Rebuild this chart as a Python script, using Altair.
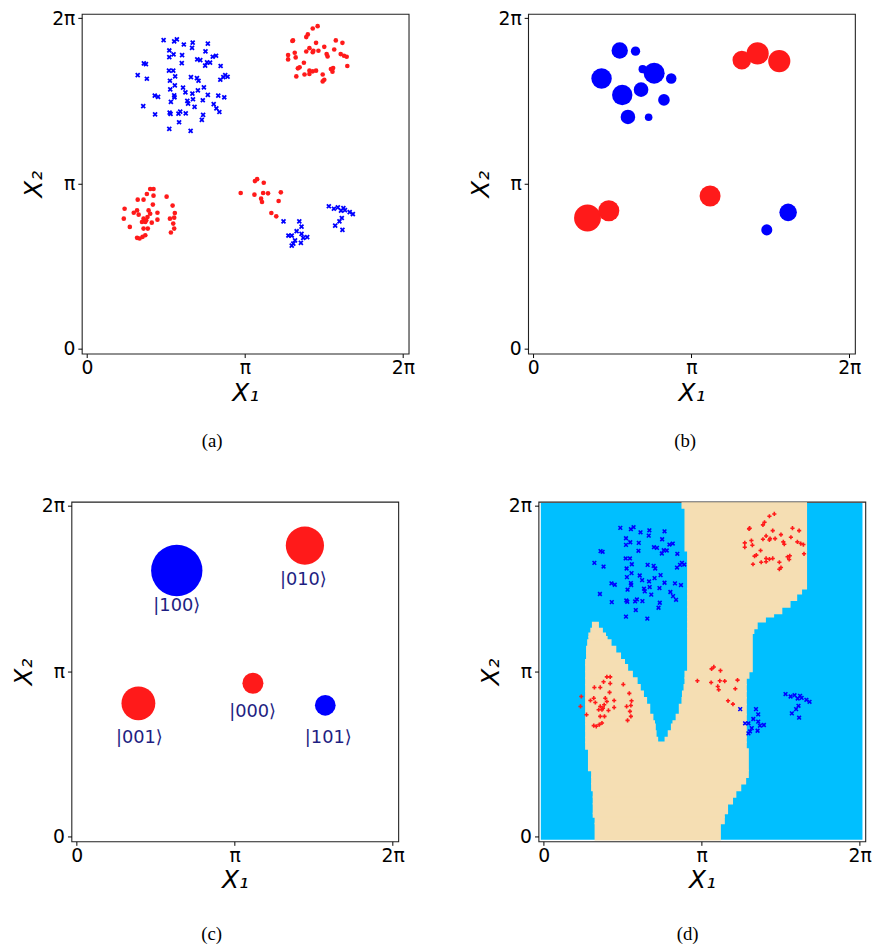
import altair as alt
import pandas as pd

# ---------------- data (coordinates in units of pi) ----------------
# training data used in panels (a) and (d)
blue_upper = [(0.485, 1.868), (0.552, 1.860), (0.569, 1.872), (0.613, 1.841), (0.669, 1.853),
              (0.665, 1.821), (0.765, 1.847), (0.521, 1.805), (0.548, 1.781), (0.521, 1.765),
              (0.602, 1.777), (0.750, 1.799), (0.698, 1.751), (0.717, 1.747), (0.796, 1.767),
              (0.817, 1.773), (0.600, 1.729), (0.360, 1.727), (0.373, 1.723), (0.760, 1.733),
              (0.779, 1.731), (0.748, 1.713), (0.846, 1.711), (0.321, 1.656), (0.379, 1.634),
              (0.519, 1.683), (0.546, 1.683), (0.558, 1.648), (0.525, 1.622), (0.658, 1.644),
              (0.696, 1.638), (0.706, 1.622), (0.875, 1.656), (0.890, 1.646), (0.863, 1.644),
              (0.844, 1.628), (0.556, 1.594), (0.608, 1.580), (0.527, 1.570), (0.623, 1.552),
              (0.667, 1.544), (0.702, 1.564), (0.740, 1.582), (0.429, 1.532), (0.450, 1.524),
              (0.552, 1.534), (0.554, 1.522), (0.765, 1.536), (0.831, 1.532), (0.869, 1.522),
              (0.531, 1.494), (0.635, 1.500), (0.671, 1.510), (0.733, 1.504), (0.640, 1.484),
              (0.802, 1.480), (0.356, 1.468), (0.681, 1.464), (0.819, 1.455), (0.838, 1.433),
              (0.431, 1.419), (0.523, 1.429), (0.529, 1.421), (0.579, 1.423), (0.590, 1.435),
              (0.625, 1.425), (0.735, 1.415), (0.727, 1.385), (0.583, 1.371), (0.521, 1.331),
              (0.656, 1.319)]
blue_lower = [(1.244, 0.772), (1.344, 0.772), (1.358, 0.740), (1.327, 0.712), (1.275, 0.686),
              (1.296, 0.686), (1.358, 0.696), (1.394, 0.676), (1.369, 0.672), (1.317, 0.657),
              (1.306, 0.637), (1.296, 0.625), (1.354, 0.641)]
blue_right = [(1.531, 0.863), (1.563, 0.848), (1.588, 0.856), (1.623, 0.852), (1.633, 0.840),
              (1.608, 0.836), (1.663, 0.828), (1.683, 0.816), (1.613, 0.792), (1.598, 0.772),
              (1.571, 0.746), (1.617, 0.720)]
red_upper = [(1.460, 1.952), (1.429, 1.938), (1.398, 1.902), (1.388, 1.886), (1.304, 1.866),
             (1.300, 1.862), (1.450, 1.851), (1.575, 1.866), (1.617, 1.851), (1.502, 1.827),
             (1.408, 1.819), (1.388, 1.799), (1.429, 1.795), (1.465, 1.803), (1.565, 1.811),
             (1.273, 1.777), (1.273, 1.751), (1.315, 1.791), (1.321, 1.763), (1.517, 1.783),
             (1.523, 1.769), (1.606, 1.783), (1.627, 1.773), (1.644, 1.767), (1.373, 1.731),
             (1.346, 1.703), (1.335, 1.697), (1.648, 1.711), (1.408, 1.683), (1.429, 1.679),
             (1.450, 1.683), (1.408, 1.663), (1.377, 1.660), (1.325, 1.648), (1.492, 1.660),
             (1.544, 1.693), (1.558, 1.699), (1.554, 1.677), (1.502, 1.628), (1.492, 1.618),
             (1.433, 1.803)]
red_left = [(0.400, 0.967), (0.421, 0.967), (0.379, 0.937), (0.321, 0.903), (0.358, 0.903),
            (0.417, 0.873), (0.504, 0.921), (0.542, 0.867), (0.238, 0.848), (0.233, 0.788),
            (0.296, 0.824), (0.317, 0.838), (0.327, 0.812), (0.390, 0.838), (0.400, 0.818),
            (0.383, 0.798), (0.358, 0.788), (0.348, 0.768), (0.369, 0.768), (0.375, 0.778),
            (0.410, 0.764), (0.446, 0.824), (0.446, 0.782), (0.556, 0.822), (0.552, 0.794),
            (0.525, 0.788), (0.546, 0.758), (0.552, 0.728), (0.271, 0.738), (0.358, 0.728),
            (0.385, 0.728), (0.369, 0.688), (0.352, 0.678), (0.317, 0.672), (0.333, 0.668),
            (0.531, 0.704), (0.421, 0.927)]
red_middle = [(1.063, 1.015), (1.077, 1.027), (1.119, 1.005), (0.973, 0.943), (1.060, 0.933),
              (1.115, 0.943), (1.146, 0.941), (1.227, 0.947), (1.102, 0.909), (1.108, 0.889),
              (1.213, 0.895), (1.167, 0.822), (1.198, 0.802)]

# panel (b): weighted points (x, y, weight)
b_blue = [(0.692, 1.692, 7.8), (0.547, 1.805, 31.4), (0.647, 1.801, 10.2), (0.432, 1.636, 49.0),
          (0.563, 1.536, 49.0), (0.682, 1.568, 25.0), (0.765, 1.668, 51.8), (0.873, 1.636, 13.0),
          (0.827, 1.506, 16.0), (0.599, 1.403, 25.0), (0.730, 1.401, 6.8), (1.478, 0.720, 14.4),
          (1.613, 0.826, 36.0)]
b_red = [(0.343, 0.792, 84.6), (0.478, 0.836, 51.8), (1.119, 0.925, 51.8),
         (1.320, 1.747, 41.0), (1.420, 1.787, 57.8), (1.557, 1.741, 57.8)]

# panel (c): basis states
c_state = ["|100⟩", "|010⟩", "|001⟩", "|000⟩", "|101⟩"]
c_x = [0.634, 1.445, 0.391, 1.116, 1.574]
c_y = [1.610, 1.761, 0.807, 0.928, 0.795]
c_weight = [309.8, 171.6, 134.6, 51.8, 50.4]
c_class = ["blue", "red", "red", "red", "blue"]
c_label_x = [0.634, 1.435, 0.397, 1.114, 1.593]
c_label_y = [1.394, 1.554, 0.598, 0.757, 0.598]

# panel (d): decision region; wheat bands (y0, y1, x0, x1), rest is sky blue
grid_extent = [-0.018, 2.018]
wheat_bands = [
    (1.988, 2.018, 0.877, 1.6625), (1.729, 1.988, 0.896, 1.6625), (1.50, 1.729, 0.9125, 1.6625),
    (1.47, 1.50, 0.9125, 1.631), (1.43, 1.47, 0.9125, 1.60), (1.39, 1.43, 0.9125, 1.558),
    (1.35, 1.39, 0.9125, 1.506), (1.33, 1.35, 0.9125, 1.454), (1.30, 1.33, 0.9125, 1.402),
    (1.26, 1.30, 0.9125, 1.35), (1.23, 1.26, 0.9125, 1.329), (1.00, 1.23, 0.9125, 1.319),
    (0.96, 1.00, 0.896, 1.298), (0.92, 0.96, 0.896, 1.281), (0.88, 0.92, 0.89, 1.281),
    (0.84, 0.88, 0.88, 1.281), (0.80, 0.84, 0.877, 1.281), (0.74, 0.80, 0.86, 1.281),
    (0.70, 0.74, 0.84, 1.281), (0.68, 0.70, 0.82, 1.281), (0.64, 0.68, 0.81, 1.281),
    (0.60, 0.64, 0.79, 1.281), (0.572, 0.60, 0.77, 1.281),
    (1.26, 1.295, 0.31, 0.345), (1.23, 1.26, 0.30, 0.37), (1.21, 1.23, 0.2875, 0.39),
    (1.19, 1.21, 0.2875, 0.40), (1.15, 1.19, 0.28, 0.425), (1.11, 1.15, 0.273, 0.455),
    (1.07, 1.11, 0.273, 0.485), (1.04, 1.07, 0.267, 0.51), (1.00, 1.04, 0.267, 0.53),
    (0.96, 1.00, 0.267, 0.56), (0.92, 0.96, 0.267, 0.59), (0.88, 0.92, 0.267, 0.61),
    (0.84, 0.88, 0.267, 0.63), (0.80, 0.84, 0.267, 0.65), (0.74, 0.80, 0.267, 0.67),
    (0.70, 0.74, 0.267, 0.69), (0.68, 0.70, 0.267, 0.70), (0.64, 0.68, 0.267, 0.705),
    (0.60, 0.64, 0.267, 0.71), (0.572, 0.60, 0.267, 0.72),
    (0.53, 0.572, 0.267, 1.281), (0.40, 0.53, 0.285, 1.294), (0.36, 0.40, 0.305, 1.294),
    (0.32, 0.36, 0.305, 1.277), (0.28, 0.32, 0.305, 1.246), (0.24, 0.28, 0.315, 1.215),
    (0.20, 0.24, 0.315, 1.194), (0.14, 0.20, 0.315, 1.1625), (0.12, 0.14, 0.315, 1.142),
    (0.08, 0.12, 0.327, 1.142), (-0.018, 0.08, 0.327, 1.117),
]

captions = ["(a)", "(b)", "(c)", "(d)"]
tick_values = [0, 1, 2]

# ---------------- styling ----------------
RED = "#ff1a1a"
BLUE = "#0000ff"
SKY = "#00bfff"
WHEAT = "#f5deb3"
NAVY = "#1e1e82"
XPATH = "M-1,-1L1,1M-1,1L1,-1"
PLUS = "M-1,0L1,0M0,-1L0,1"
LBL = "datum.value == 0 ? '0' : (datum.value == 1 ? 'π' : '2π')"
W, H = 331, 344

XS = alt.Scale(domain=[-0.033, 2.036], nice=False, zero=False)
YS = alt.Scale(domain=[-0.028, 2.026], nice=False, zero=False)
SZ = alt.Scale(domain=[0, 400], range=[0, 3491])


def xax():
    return alt.Axis(values=tick_values, labelExpr=LBL, title="X₁", grid=False, domain=False,
                    tickSize=4, labelPadding=1, titlePadding=3, labelFlush=False,
                    labelOverlap=False)


def yax():
    return alt.Axis(values=tick_values, labelExpr=LBL, title="X₂", grid=False, domain=False,
                    tickSize=4, labelPadding=3, titlePadding=5, labelFlush=False,
                    labelOverlap=False)


def pts(rows):
    return pd.DataFrame(rows, columns=["x", "y"])


def enc():
    return dict(x=alt.X("x:Q", scale=XS, axis=xax()), y=alt.Y("y:Q", scale=YS, axis=yax()))


def caption(text, px, py):
    return alt.Chart(pd.DataFrame({"t": [text]})).mark_text(
        font="Liberation Serif", fontSize=19, color="black", baseline="middle", align="center"
    ).encode(text="t:N", x=alt.value(px), y=alt.value(py))


blue_all = pts(blue_upper + blue_lower + blue_right)
red_all = pts(red_upper + red_left + red_middle)

# ---- panel (a)
a_blue = alt.Chart(blue_all).mark_point(shape=XPATH, filled=False, strokeWidth=1.8, size=16,
                                        color=BLUE, opacity=1).encode(**enc())
a_red = alt.Chart(red_all).mark_circle(size=22, color=RED, opacity=1).encode(**enc())
panel_a = alt.layer(a_blue, a_red, caption(captions[0], 132, 433)).properties(width=W, height=H)

# ---- panel (b)
bdf = pd.DataFrame([(x, y, w, "blue") for x, y, w in b_blue] + [(x, y, w, "red") for x, y, w in b_red],
                   columns=["x", "y", "w", "cls"])
b_pts = alt.Chart(bdf).mark_circle(opacity=1).encode(
    **enc(),
    size=alt.Size("w:Q", scale=SZ, legend=None),
    color=alt.Color("cls:N", scale=alt.Scale(domain=["blue", "red"], range=[BLUE, RED]), legend=None),
)
panel_b = alt.layer(b_pts, caption(captions[1], 159, 433)).properties(width=W, height=H)

# ---- panel (c)
cdf = pd.DataFrame({"x": c_x, "y": c_y, "w": c_weight, "cls": c_class, "state": c_state,
                    "lx": c_label_x, "ly": c_label_y})
c_pts = alt.Chart(cdf).mark_circle(opacity=1).encode(
    **enc(),
    size=alt.Size("w:Q", scale=SZ, legend=None),
    color=alt.Color("cls:N", scale=alt.Scale(domain=["blue", "red"], range=[BLUE, RED]), legend=None),
)
c_txt = alt.Chart(cdf).mark_text(font="DejaVu Sans", fontSize=18, color=NAVY,
                                 baseline="middle", align="center").encode(
    x=alt.X("lx:Q", scale=XS, axis=xax()), y=alt.Y("ly:Q", scale=YS, axis=yax()), text="state:N")
panel_c = alt.layer(c_pts, c_txt, caption(captions[2], 142, 438)).properties(width=W, height=H)

# ---- panel (d)
bg = pd.DataFrame({"x0": [grid_extent[0]], "x1": [grid_extent[1]],
                   "y0": [grid_extent[0]], "y1": [grid_extent[1]]})
wdf = pd.DataFrame(wheat_bands, columns=["y0", "y1", "x0", "x1"])
d_bg = alt.Chart(bg).mark_rect(color=SKY, opacity=1).encode(
    x=alt.X("x0:Q", scale=XS, axis=xax()), x2="x1:Q",
    y=alt.Y("y0:Q", scale=YS, axis=yax()), y2="y1:Q")
d_wheat = alt.Chart(wdf).mark_rect(color=WHEAT, stroke=WHEAT, strokeWidth=1.5, opacity=1).encode(
    x=alt.X("x0:Q", scale=XS, axis=xax()), x2="x1:Q",
    y=alt.Y("y0:Q", scale=YS, axis=yax()), y2="y1:Q")
d_blue = alt.Chart(blue_all).mark_point(shape=XPATH, filled=False, strokeWidth=1.6, size=14,
                                        color=BLUE, opacity=1).encode(**enc())
d_red = alt.Chart(red_all).mark_point(shape=PLUS, filled=False, strokeWidth=1.6, size=18,
                                      color=RED, opacity=1).encode(**enc())
panel_d = alt.layer(d_bg, d_wheat, d_blue, d_red, caption(captions[3], 151, 438)).properties(
    width=W, height=H)

row1 = alt.hconcat(panel_a, panel_b, spacing=121, bounds="flush")
row2 = alt.hconcat(panel_c, panel_d, spacing=142, bounds="flush")
chart = alt.vconcat(row1, row2, spacing=44, center=True).properties(
    padding={"left": 3, "top": -6, "right": 0, "bottom": 0}
).configure_axis(
    labelFont="DejaVu Sans", labelFontSize=19, labelColor="black",
    tickColor="black", tickWidth=1,
    titleFont="DejaVu Sans", titleFontSize=25, titleFontStyle="italic",
    titleFontWeight="normal", titleColor="black",
).configure_view(stroke="#222222", strokeWidth=1.1)

chart.save("out.html", embed_options={"renderer": "svg", "actions": False})
